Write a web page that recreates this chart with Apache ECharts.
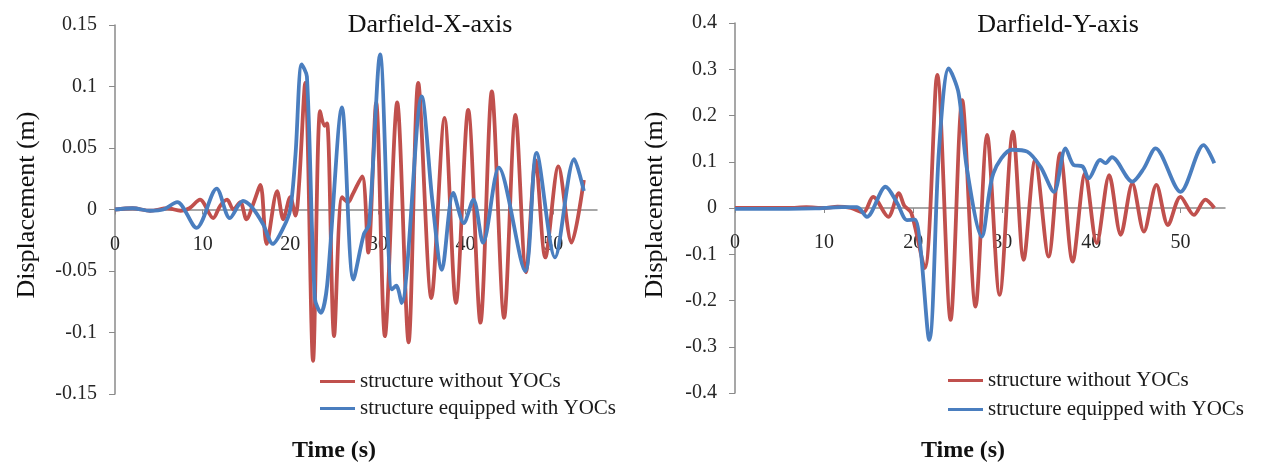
<!DOCTYPE html>
<html>
<head>
<meta charset="utf-8">
<script src="https://cdn.jsdelivr.net/npm/echarts@6/dist/echarts.min.js"></script>
<style>
  html, body { margin: 0; padding: 0; background: #ffffff; }
  #chart { width: 1264px; height: 465px; }
</style>
</head>
<body>
<div id="chart"></div>
<script>
// Labels
const seriesNames = ['structure without YOCs', 'structure equipped with YOCs'];
const panelTitles = ['Darfield-X-axis', 'Darfield-Y-axis'];
const xAxisTitle = 'Time (s)';
const yAxisTitle = 'Displacement (m)';

// Tick values
const timeTicks = [0, 10, 20, 30, 40, 50];
const xDispTicks = [-0.15, -0.1, -0.05, 0, 0.05, 0.1, 0.15];
const yDispTicks = [-0.4, -0.3, -0.2, -0.1, 0, 0.1, 0.2, 0.3, 0.4];

// X direction, structure without YOCs (time in s, displacement in m)
const xWithoutTime = [0, 2, 4, 6, 7.5, 8.5, 9.7, 11.2, 12.0, 12.8, 13.5, 14.3, 15.0, 15.8, 16.6, 17.3, 18.5, 19.2, 20.0, 20.6, 21.0, 21.7, 22.6, 23.4, 23.9, 24.2, 25.0, 25.9, 26.6, 27.1, 28.2, 28.9, 29.8, 30.8, 32.2, 33.5, 34.6, 36.1, 37.6, 38.9, 40.3, 41.7, 43.0, 44.4, 45.7, 46.9, 48.0, 49.1, 50.6, 52.1, 53.5];
const xWithoutDisp = [0, 0.001, -0.001, 0.001, -0.001, 0.001, 0.008, -0.007, 0.003, 0.008, 0.0, 0.006, -0.008, 0.005, 0.02, -0.028, 0.015, -0.008, 0.01, -0.005, 0.02, 0.103, -0.123, 0.08, 0.068, 0.07, -0.103, 0.01, 0.006, 0.012, 0.027, -0.035, 0.087, -0.103, 0.087, -0.108, 0.103, -0.072, 0.0745, -0.076, 0.081, -0.092, 0.096, -0.088, 0.077, -0.051, 0.04, -0.039, 0.035, -0.027, 0.024];

// X direction, structure equipped with YOCs
const xWithTime = [0, 2, 4, 5.5, 7.1, 9.3, 11.6, 13.1, 14.6, 15.6, 16.9, 18.0, 19.2, 20.0, 20.6, 21.3, 21.9, 22.8, 23.5, 24.2, 25.9, 27.2, 28.4, 29.0, 30.25, 31.6, 32.1, 32.7, 35.0, 36.2, 37.3, 38.6, 39.8, 40.9, 42.0, 43.8, 46.8, 48.1, 50.2, 52.4, 53.5];
const xWithDisp = [0, 0.001, -0.001, 0.0, 0.006, -0.015, 0.017, -0.007, 0.007, 0.002, -0.012, -0.028, -0.015, 0.0, 0.045, 0.118, 0.108, -0.072, -0.084, -0.062, 0.083, -0.057, -0.02, -0.012, 0.126, -0.065, -0.062, -0.076, 0.092, 0.008, -0.049, 0.0135, -0.011, 0.008, -0.027, 0.034, -0.05, 0.046, -0.039, 0.041, 0.015];

// Y direction, structure without YOCs
const yWithoutTime = [0, 3, 6, 8, 10, 11.5, 13, 14.4, 15.5, 17.2, 18.4, 19.0, 19.8, 21.3, 22.7, 24.2, 25.5, 27.0, 28.3, 29.7, 31.2, 32.4, 33.7, 35.2, 36.5, 37.9, 39.3, 40.6, 42.0, 43.3, 44.6, 45.9, 47.3, 48.6, 50.0, 51.5, 52.8, 53.8];
const yWithoutDisp = [0, 0, 0, 0.002, 0, 0.003, 0, -0.01, 0.024, -0.019, 0.032, 0.005, -0.011, -0.13, 0.288, -0.242, 0.233, -0.213, 0.158, -0.188, 0.165, -0.112, 0.104, -0.105, 0.118, -0.116, 0.075, -0.076, 0.071, -0.058, 0.053, -0.051, 0.05, -0.037, 0.024, -0.015, 0.018, 0.0];

// Y direction, structure equipped with YOCs
const yWithTime = [0, 3, 6, 9, 12, 13.7, 14.8, 16.9, 18.2, 19.3, 20.2, 21.8, 22.9, 24.0, 25.1, 26.0, 27.7, 29.0, 31.1, 32.8, 34.3, 35.8, 37.1, 38.0, 39.0, 39.7, 41.0, 41.6, 42.3, 44.6, 45.9, 47.2, 50.0, 52.6, 53.8];
const yWithDisp = [-0.002, -0.002, -0.002, -0.001, 0.002, 0.002, -0.019, 0.046, 0.011, -0.026, -0.025, -0.285, 0.126, 0.302, 0.248, 0.089, -0.062, 0.075, 0.126, 0.122, 0.089, 0.035, 0.129, 0.093, 0.09, 0.064, 0.104, 0.097, 0.11, 0.057, 0.086, 0.129, 0.035, 0.136, 0.097];

const RED = '#c0504d';
const BLUE = '#4a7ebf';
const AXIS_GREY = '#8a8a8a';
const SERIF = '"Liberation Serif", "Times New Roman", serif';

// Plot areas (pixel boxes)
const grids = [
  { left: 115, top: 25, width: 482, height: 369 },
  { left: 735, top: 23, width: 490, height: 370 }
];

const zip = (ts, vs) => ts.map((t, i) => [t, vs[i]]);

// Time axis sits on the zero displacement line: shift it up from the grid bottom
function xAxisFor(gridIndex, dispTicks) {
  const g = grids[gridIndex];
  const lo = dispTicks[0], hi = dispTicks[dispTicks.length - 1];
  const zeroFromBottom = g.height * (0 - lo) / (hi - lo);
  return {
    type: 'value', gridIndex, position: 'bottom', min: 0, max: 55, interval: 10,
    offset: -zeroFromBottom,
    axisLine: { onZero: false, lineStyle: { color: AXIS_GREY, width: 1.5 } },
    axisTick: { show: true, length: 5, customValues: timeTicks, lineStyle: { color: AXIS_GREY } },
    axisLabel: { customValues: timeTicks, margin: 25, fontFamily: SERIF, fontSize: 20, color: '#262626' },
    splitLine: { show: false }
  };
}

function yAxisFor(gridIndex, ticks) {
  const step = +(ticks[1] - ticks[0]).toFixed(4);
  return {
    type: 'value', gridIndex,
    min: ticks[0], max: ticks[ticks.length - 1], interval: step,
    axisLine: { show: true, onZero: false, lineStyle: { color: AXIS_GREY, width: 1.5 } },
    axisTick: { show: true, length: 6, lineStyle: { color: AXIS_GREY } },
    axisLabel: { margin: 18, fontFamily: SERIF, fontSize: 20, color: '#262626',
      formatter: v => String(+v.toFixed(3)) },
    splitLine: { show: false }
  };
}

function lineSeries(name, color, xi, data) {
  return {
    name, type: 'line', xAxisIndex: xi, yAxisIndex: xi,
    data, smooth: 0.3, showSymbol: false, symbol: 'none',
    lineStyle: { color, width: 3.8 }, itemStyle: { color },
    animation: false
  };
}

function legendAt(left, top, gap) {
  return {
    left, top, orient: 'vertical', icon: 'rect', itemWidth: 35, itemHeight: 3,
    itemGap: gap, selectedMode: false, data: seriesNames,
    textStyle: { fontFamily: SERIF, fontSize: 21, color: '#1a1a1a' }
  };
}

function label(text, x, y, size, opts) {
  return Object.assign({
    type: 'text', x, y,
    style: { text, fontFamily: SERIF, fontSize: size, fill: '#111', align: 'center', verticalAlign: 'middle' }
  }, opts || {});
}

const chart = echarts.init(document.getElementById('chart'), null, { renderer: 'canvas' });
chart.setOption({
  backgroundColor: '#ffffff',
  animation: false,
  grid: grids,
  xAxis: [xAxisFor(0, xDispTicks), xAxisFor(1, yDispTicks)],
  yAxis: [yAxisFor(0, xDispTicks), yAxisFor(1, yDispTicks)],
  legend: [legendAt(315, 366, 6), legendAt(943, 365, 8)],
  series: [
    lineSeries(seriesNames[0], RED, 0, zip(xWithoutTime, xWithoutDisp)),
    lineSeries(seriesNames[1], BLUE, 0, zip(xWithTime, xWithDisp)),
    lineSeries(seriesNames[0], RED, 1, zip(yWithoutTime, yWithoutDisp)),
    lineSeries(seriesNames[1], BLUE, 1, zip(yWithTime, yWithDisp))
  ],
  graphic: [
    label(panelTitles[0], 430, 25, 26),
    label(panelTitles[1], 1058, 25, 26),
    label(yAxisTitle, 27, 205, 26, { rotation: Math.PI / 2 }),
    label(yAxisTitle, 655, 205, 26, { rotation: Math.PI / 2 }),
    label(xAxisTitle, 334, 451, 24, { style: { text: xAxisTitle, fontFamily: SERIF, fontSize: 24, fontWeight: 'bold', fill: '#111', align: 'center', verticalAlign: 'middle' } }),
    label(xAxisTitle, 963, 451, 24, { style: { text: xAxisTitle, fontFamily: SERIF, fontSize: 24, fontWeight: 'bold', fill: '#111', align: 'center', verticalAlign: 'middle' } })
  ]
});
</script>
</body>
</html>
